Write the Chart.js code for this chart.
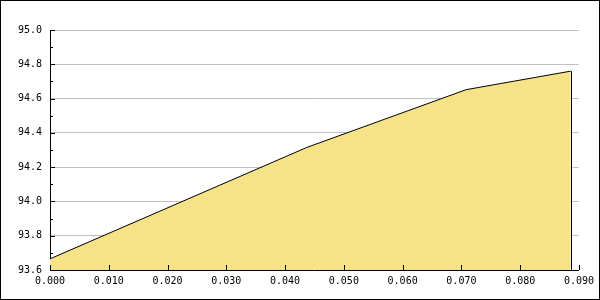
<!DOCTYPE html>
<html>
<head>
<meta charset="utf-8">
<script src="https://cdn.jsdelivr.net/npm/chart.js@4/dist/chart.umd.min.js"></script>
<style>
  body { margin: 0; background: #fff; }
  #wrap { width: 600px; height: 300px; box-sizing: border-box; border: 1px solid #000; }
  #wrap canvas { display: block; }
</style>
</head>
<body>
<div id="wrap"><canvas id="chart" width="598" height="298"></canvas></div>
<script>
// x positions and the matching y values
const xValues = [0, 0.0437, 0.0708, 0.0886]
const yValues = [93.665, 94.315, 94.652, 94.76]

// axis ranges and tick steps
const xRange = [0, 0.09]
const xStep = 0.01
const yRange = [93.6, 95.0]
const yStep = 0.1

const points = xValues.map((x, i) => ({ x: x, y: yValues[i] }))

// every second y tick is a major one (0.2 steps), the others are minor
const isMajor = v => Math.round(v * 10) % 2 === 0

// ticks go inside the plot, chart.js draws them outside so draw them here
const innerTicks = {
    id: 'innerTicks',
    afterDatasetsDraw(chart) {
        const c = chart.ctx
        const area = chart.chartArea
        const xs = chart.scales.x
        const ys = chart.scales.y
        c.save()
        c.strokeStyle = '#000'
        c.lineWidth = 1
        c.beginPath()
        ys.ticks.forEach(t => {
            const py = Math.round(ys.getPixelForValue(t.value)) + 0.5
            const len = isMajor(t.value) ? 5 : 3
            c.moveTo(area.left, py)
            c.lineTo(area.left + len, py)
        })
        xs.ticks.forEach(t => {
            const px = Math.round(xs.getPixelForValue(t.value)) + 0.5
            c.moveTo(px, area.bottom)
            c.lineTo(px, area.bottom - 5)
        })
        //closing edge of the area on the right side
        const last = points[points.length - 1]
        const lx = Math.round(xs.getPixelForValue(last.x)) + 0.5
        c.moveTo(lx, ys.getPixelForValue(last.y))
        c.lineTo(lx, area.bottom)
        c.stroke()
        c.restore()
    }
}

const tickFont = { family: 'DejaVu Sans Mono', size: 10 }

new Chart(document.getElementById('chart'), {
    type: 'line',
    data: {
        datasets: [{
            data: points,
            borderColor: '#000000',
            borderWidth: 1,
            backgroundColor: '#F6E287',
            fill: 'start',
            pointRadius: 0,
            tension: 0
        }]
    },
    options: {
        responsive: false,
        animation: false,
        layout: { padding: { top: 29, right: 19, left: 0, bottom: 0 } },
        plugins: {
            legend: { display: false },
            tooltip: { enabled: false }
        },
        scales: {
            x: {
                type: 'linear',
                min: xRange[0],
                max: xRange[1],
                afterFit: s => { s.height = 29 },
                grid: { display: false, drawTicks: false },
                border: { display: true, color: '#000', width: 1 },
                ticks: {
                    stepSize: xStep,
                    color: '#000',
                    font: tickFont,
                    padding: 5,
                    maxRotation: 0,
                    autoSkip: false,
                    callback: v => v.toFixed(3)
                }
            },
            y: {
                min: yRange[0],
                max: yRange[1],
                afterFit: s => { s.width = 49 },
                grid: {
                    drawTicks: false,
                    color: ctx => isMajor(ctx.tick.value) ? '#C0C0C0' : 'rgba(0,0,0,0)'
                },
                border: { display: true, color: '#000', width: 1 },
                ticks: {
                    stepSize: yStep,
                    color: '#000',
                    font: tickFont,
                    padding: 8,
                    autoSkip: false,
                    callback: v => isMajor(v) ? v.toFixed(1) : ''
                }
            }
        }
    },
    plugins: [innerTicks]
})
</script>
</body>
</html>
